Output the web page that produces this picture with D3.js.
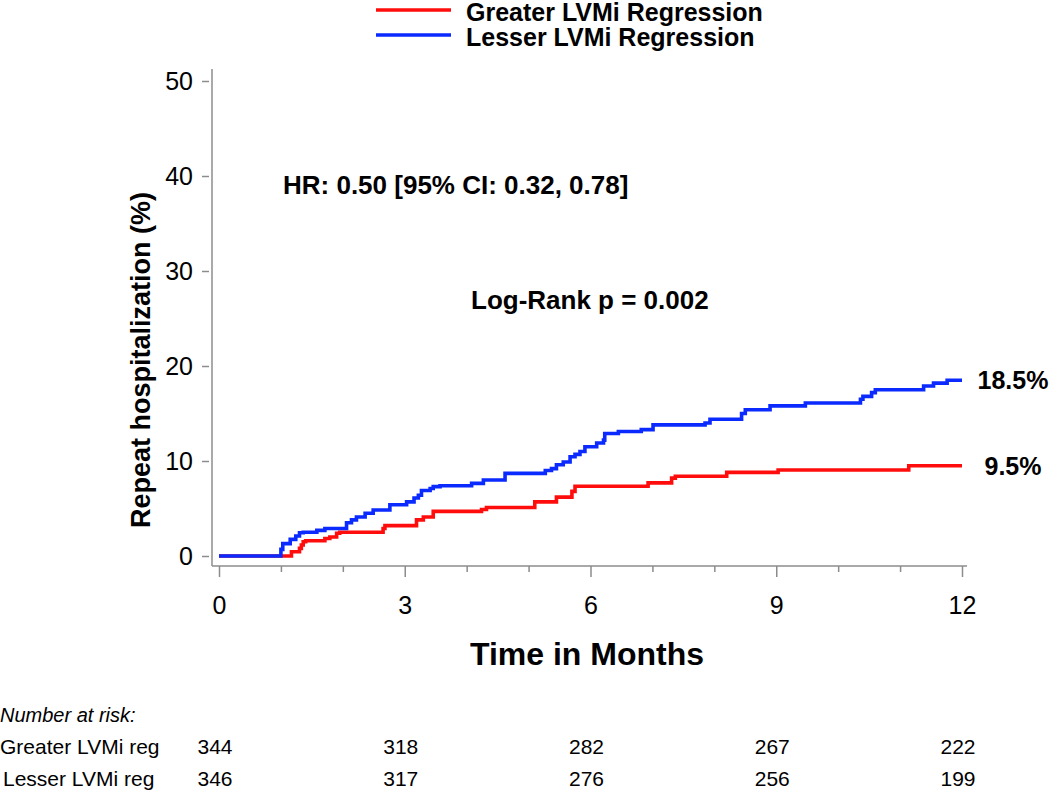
<!DOCTYPE html>
<html>
<head>
  <meta charset="utf-8">
  <title>Repeat hospitalization by LVMi regression</title>
  <script src="https://d3js.org/d3.v7.min.js"></script>
  <style>
    body { margin: 0; background: #fff; }
    svg text { font-family: Arial, "Liberation Sans", Helvetica, sans-serif; }
  </style>
</head>
<body>
<div id="chart"></div>
<script>

// step curves (months, cumulative %)
var greaterTime = [0, 1.17, 1.30, 1.33, 1.36, 1.40, 1.71, 1.79, 1.90, 1.95, 2.65, 2.68, 3.19, 3.30, 3.46, 4.24, 4.32, 5.10, 5.45, 5.70, 5.75, 6.93, 7.31, 7.37, 8.20, 9.03, 11.14, 12];
var greaterPct  = [0, 0.45, 0.8, 1.16, 1.5, 1.6, 1.85, 2.0, 2.4, 2.5, 2.9, 3.2, 3.8, 4.1, 4.7, 4.9, 5.1, 5.7, 6.2, 6.8, 7.35, 7.7, 8.2, 8.4, 8.8, 9.05, 9.5, 9.5];

var lesserTime = [0, 1.00, 1.03, 1.15, 1.24, 1.30, 1.36, 1.58, 1.71, 2.06, 2.14, 2.22, 2.36, 2.49, 2.76, 3.03, 3.15, 3.22, 3.27, 3.41, 3.46, 3.57, 4.08, 4.27, 4.62, 5.27, 5.37, 5.45, 5.56, 5.67, 5.75, 5.83, 5.91, 6.10, 6.21, 6.23, 6.45, 6.82, 7.01, 7.85, 7.93, 8.44, 8.50, 8.90, 9.47, 10.36, 10.40, 10.54, 10.60, 11.38, 11.54, 11.76, 12];
var lesserPct  = [0, 0.7, 1.3, 1.75, 2.1, 2.45, 2.5, 2.7, 2.9, 3.5, 3.8, 4.1, 4.5, 4.85, 5.4, 5.7, 6.1, 6.4, 6.9, 7.1, 7.3, 7.4, 7.65, 8.0, 8.7, 9.0, 9.2, 9.6, 9.9, 10.45, 10.7, 11.0, 11.5, 11.9, 12.2, 12.9, 13.1, 13.3, 13.8, 14.0, 14.4, 15.0, 15.4, 15.8, 16.1, 16.5, 16.8, 17.2, 17.5, 17.9, 18.2, 18.5, 18.5];

var seriesNames = ["Greater LVMi Regression", "Lesser LVMi Regression"];
var seriesColors = ["#ff0d0d", "#0a2aff"];
var endLabels = ["9.5%", "18.5%"];

var xMajorTicks = [0, 3, 6, 9, 12];
var xMinorTicks = [1, 2, 4, 5, 7, 8, 10, 11];
var yTicks = [0, 10, 20, 30, 40, 50];

// number at risk table
var riskMonths = [0, 3, 6, 9, 12];
var riskRowLabels = ["Greater LVMi reg", "Lesser LVMi reg"];
var greaterRisk = [344, 318, 282, 267, 222];
var lesserRisk  = [346, 317, 276, 256, 199];


var svg = d3.select("#chart").append("svg")
  .attr("width", 1050).attr("height", 793);

var x = d3.scaleLinear().domain([0, 12]).range([219, 962]);
var y = d3.scaleLinear().domain([0, 50]).range([556, 81]);

var axisColor = "#8c8c8c";

// axis lines
svg.append("line").attr("x1", 212).attr("x2", 212).attr("y1", 69).attr("y2", 566)
  .attr("stroke", axisColor).attr("stroke-width", 1.5);
svg.append("line").attr("x1", 212).attr("x2", 967).attr("y1", 566).attr("y2", 566)
  .attr("stroke", axisColor).attr("stroke-width", 1.5);

// y axis
var yAxis = svg.append("g").attr("transform", "translate(209,0)")
  .call(d3.axisLeft(y).tickValues(yTicks).tickSize(7).tickPadding(9));
yAxis.select(".domain").remove();
yAxis.selectAll(".tick line").attr("stroke", axisColor).attr("stroke-width", 1.5);
yAxis.selectAll(".tick text").attr("font-size", 25).attr("fill", "#000")
  .style("font-family", "Arial, 'Liberation Sans', sans-serif");

// x axis, major + minor ticks
var xAxis = svg.append("g").attr("transform", "translate(0,566)")
  .call(d3.axisBottom(x).tickValues(xMajorTicks).tickSize(11).tickPadding(19));
xAxis.select(".domain").remove();
xAxis.selectAll(".tick line").attr("stroke", axisColor).attr("stroke-width", 1.5);
xAxis.selectAll(".tick text").attr("font-size", 25).attr("fill", "#000")
  .style("font-family", "Arial, 'Liberation Sans', sans-serif");

var xMinor = svg.append("g").attr("transform", "translate(0,566)")
  .call(d3.axisBottom(x).tickValues(xMinorTicks).tickSize(6).tickFormat(""));
xMinor.select(".domain").remove();
xMinor.selectAll(".tick line").attr("stroke", axisColor).attr("stroke-width", 1.5);

// axis titles
svg.append("text")
  .attr("transform", "translate(150,360) rotate(-90)")
  .attr("text-anchor", "middle")
  .attr("font-size", 27).attr("font-weight", "bold")
  .text("Repeat hospitalization (%)");

svg.append("text")
  .attr("x", 587).attr("y", 665)
  .attr("text-anchor", "middle")
  .attr("font-size", 32).attr("font-weight", "bold")
  .text("Time in Months");

// curves
var line = d3.line()
  .x(function(d) { return x(d[0]); })
  .y(function(d) { return y(d[1]); })
  .curve(d3.curveStepAfter);

var curves = [d3.zip(greaterTime, greaterPct), d3.zip(lesserTime, lesserPct)];

curves.forEach(function(c, i) {
  svg.append("path")
    .datum(c)
    .attr("d", line)
    .attr("fill", "none")
    .attr("stroke", seriesColors[i])
    .attr("stroke-width", 3.6);
});

// end labels
curves.forEach(function(c, i) {
  svg.append("text")
    .attr("x", 1013)
    .attr("y", y(c[c.length - 1][1]) + 9)
    .attr("text-anchor", "middle")
    .attr("font-size", 25).attr("font-weight", "bold")
    .text(endLabels[i]);
});

// annotations
svg.append("text").attr("x", 283).attr("y", 194)
  .attr("font-size", 26).attr("font-weight", "bold")
  .text("HR: 0.50 [95% CI: 0.32, 0.78]");
svg.append("text").attr("x", 471).attr("y", 309)
  .attr("font-size", 26).attr("font-weight", "bold")
  .text("Log-Rank p = 0.002");

// legend
seriesNames.forEach(function(name, i) {
  var ly = 10 + i * 25;
  svg.append("line")
    .attr("x1", 376).attr("x2", 451).attr("y1", ly).attr("y2", ly)
    .attr("stroke", seriesColors[i]).attr("stroke-width", 3.6);
  svg.append("text")
    .attr("x", 466).attr("y", ly + 11)
    .attr("font-size", 25).attr("font-weight", "bold")
    .text(name);
});

// number at risk
svg.append("text").attr("x", 0).attr("y", 722)
  .attr("font-size", 20).attr("font-style", "italic")
  .text("Number at risk:");

[greaterRisk, lesserRisk].forEach(function(row, i) {
  var ry = 754 + i * 32;
  svg.append("text").attr("x", i == 0 ? 0 : 3).attr("y", ry)
    .attr("font-size", 21)
    .text(riskRowLabels[i]);
  row.forEach(function(v, j) {
    svg.append("text")
      .attr("x", x(riskMonths[j]) - 4)
      .attr("y", ry)
      .attr("text-anchor", "middle")
      .attr("font-size", 21)
      .text(v);
  });
});

</script>
</body>
</html>
